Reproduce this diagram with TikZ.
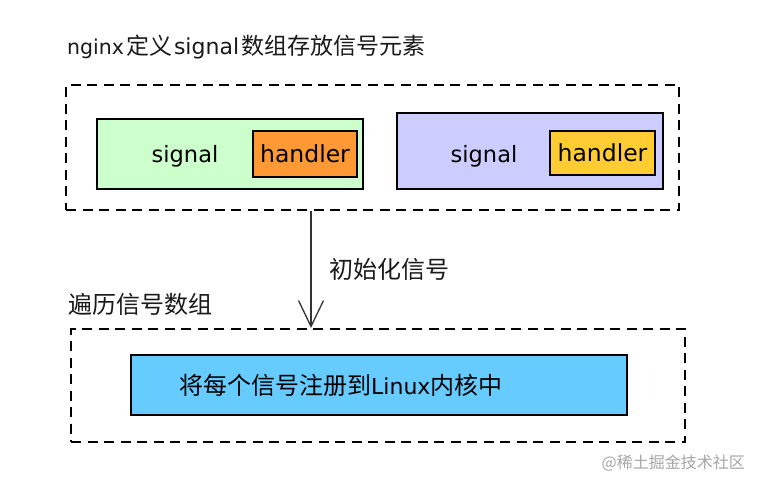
\documentclass[tikz,border=0pt]{standalone}
\usepackage{fontspec}
\newfontfamily\cjk{Noto Sans CJK SC}
\newfontfamily\dv{DejaVu Sans}
\usetikzlibrary{arrows.meta}
\definecolor{ggreen}{HTML}{CCFFCC}
\definecolor{gorange}{HTML}{FF9933}
\definecolor{gpurple}{HTML}{CCCCFF}
\definecolor{gyellow}{HTML}{FFCC33}
\definecolor{gblue}{HTML}{66CCFF}
\definecolor{txt}{HTML}{1A1A1A}
\tikzset{
  dashbox/.style={draw=black, line width=2pt, dash pattern=on 10pt off 6.5pt, rectangle, inner sep=0pt},
  solidbox/.style={draw=black, line width=2pt, rectangle, inner sep=0pt},
  lbl/.style={inner sep=0pt, text=txt, anchor=west},
}
\begin{document}
\begin{tikzpicture}[x=1pt,y=-1pt]
\useasboundingbox (0,0) rectangle (760,488);
\fill[white] (0,0) rectangle (760,488);
% title
\node[lbl] (title) at (67,47) {\fontsize{20.5}{24}\dv nginx\kern2pt\fontsize{23}{27}\cjk 定义\kern2pt\fontsize{22}{26}\dv signal\kern2pt\fontsize{23}{27}\cjk 数组存放信号元素};
% top group
\node[dashbox, minimum width=613pt, minimum height=125pt] (outer1) at (372.5,147.5) {};
\node[solidbox, fill=ggreen, minimum width=266pt, minimum height=70pt] (green) at (230,154) {};
\node[solidbox, fill=gorange, minimum width=104pt, minimum height=46pt] (orange) at (305,154) {\fontsize{23.5}{27}\dv handler};
\node[inner sep=0pt] (sig1) at (185,156) {\fontsize{22.5}{26}\dv signal};
\node[solidbox, fill=gpurple, minimum width=266pt, minimum height=76pt] (purple) at (530,151) {};
\node[solidbox, fill=gyellow, minimum width=105pt, minimum height=44pt] (yellow) at (602.5,153) {\fontsize{23.5}{27}\dv handler};
\node[inner sep=0pt] (sig2) at (484,156) {\fontsize{22.5}{26}\dv signal};
% bottom group
\node[lbl] (trav) at (68,304) {\fontsize{24}{28}\cjk 遍历信号数组};
\node[dashbox, minimum width=614pt, minimum height=113pt] (outer2) at (378,385.5) {};
\node[solidbox, fill=gblue, minimum width=496pt, minimum height=60pt] (blue) at (379,385) {};
\node[lbl, text=black] (reg) at (179,385) {\fontsize{24}{28}\cjk 将每个信号注册到\fontsize{22}{26}\dv Linux\fontsize{24}{28}\cjk 内核中};
% arrow
\coordinate (ax) at (311,0);
\draw[line width=1.3pt, draw=black!80, -{Straight Barb[length=26pt,width=25pt,line width=1.3pt]}] (outer1.south -| ax) -- (outer2.north -| ax);
\node[lbl] (init) at (329,269) {\fontsize{24}{28}\cjk 初始化信号};
% watermark
\node[inner sep=0pt, anchor=east, text=black!35] (wm) at (745,463) {\fontsize{16}{19}\cjk @稀土掘金技术社区};
\end{tikzpicture}
\end{document}
